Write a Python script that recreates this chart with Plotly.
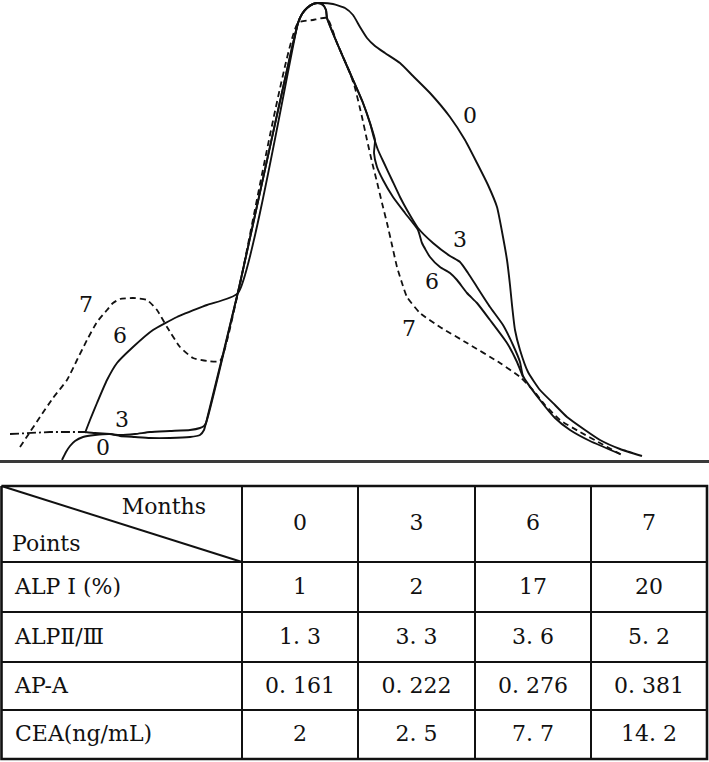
import plotly.graph_objects as go

# ---------------- densitometry traces (mobility x, relative density y) ----------------
curve0_x = [62, 66, 70, 75, 83, 95, 110, 120, 135, 150, 170, 190, 200, 204, 206, 238, 298, 302, 307, 313,
            320, 333, 345, 353, 360, 367, 375, 385, 400, 413, 430, 450, 465, 477, 488, 497, 503, 507, 510,
            512, 515, 520, 528, 540, 555, 567, 585, 600, 620, 642]
curve0_y = [0, 8, 14, 19, 23, 25, 26, 24, 23, 22, 22, 23, 25, 30, 37, 168, 437, 446, 452, 456,
            457, 456, 452, 445, 433, 422, 414, 407, 397, 384, 367, 343, 320, 297, 275, 253, 223, 200, 175,
            155, 130, 110, 88, 70, 55, 43, 30, 20, 11, 4]

curve3_lead_x = [10, 30, 50, 70, 85]
curve3_lead_y = [26, 27, 28, 28, 28]
curve3_x = [85, 95, 110, 120, 135, 150, 170, 190, 200, 204, 206, 238, 298, 302, 307, 313, 318, 323, 326, 327,
            337, 350, 363, 370, 374, 378, 384, 392, 400, 407, 418, 433, 450, 460, 468, 477, 490, 503, 513,
            520, 523, 540, 555, 570, 590, 620]
curve3_y = [28, 27, 26, 25, 26, 28, 29, 30, 32, 34, 37, 168, 437, 446, 452, 456, 457, 455, 450, 442,
            417, 387, 357, 337, 322, 310, 297, 280, 263, 250, 232, 217, 204, 198, 187, 173, 153, 135, 115,
            98, 84, 60, 42, 30, 19, 6]

curve6_x = [85, 90, 97, 107, 117, 133, 153, 177, 207, 238, 298, 302, 307, 313, 318, 323, 326, 327, 337, 350,
            363, 370, 375, 374, 377, 383, 393, 405, 418, 422, 430, 440, 450, 457, 467, 477, 490, 507, 517, 523]
curve6_y = [27, 40, 57, 80, 97, 113, 130, 143, 155, 167, 437, 446, 452, 456, 457, 455, 450, 442, 417, 387,
            357, 337, 320, 307, 293, 280, 263, 247, 230, 217, 203, 193, 187, 180, 167, 157, 140, 117, 98, 83]

curve7_x = [20, 30, 40, 53, 67, 77, 87, 97, 107, 113, 120, 133, 147, 157, 167, 180, 193, 207, 220, 238,
            298, 313, 327, 337, 350, 355, 362, 367, 372, 377, 382, 387, 392, 397, 402, 407, 420, 440, 467,
            500, 520, 533, 545, 560, 580, 600, 622]
curve7_y = [13, 28, 43, 62, 80, 100, 120, 138, 150, 157, 161, 162, 160, 150, 133, 113, 102, 99, 99, 167,
            437, 440, 442, 417, 387, 372, 343, 320, 298, 278, 257, 237, 215, 193, 177, 163, 147, 133, 117,
            97, 83, 70, 55, 40, 28, 17, 5]

curve_labels = ["0", "0", "3", "3", "6", "6", "7", "7"]
label_x = [470, 103, 460, 122, 432, 120, 409, 86]
label_y = [343, 11, 219, 39, 177, 123, 130, 154]

# ---------------- table ----------------
months = ["0", "3", "6", "7"]
row_labels = ["ALP I (%)", "ALPⅡ/Ⅲ", "AP-A", "CEA(ng/mL)"]
alp1 = [1, 2, 17, 20]
alp23 = [1.3, 3.3, 3.6, 5.2]
apa = [0.161, 0.222, 0.276, 0.381]
cea = [2, 2.5, 7.7, 14.2]

FONT = "DejaVu Serif"
FS = 22
INK = "#111111"

fig = go.Figure()

line_kw = dict(color=INK, width=1.9, shape="spline", smoothing=0.5)
fig.add_trace(go.Scatter(x=curve0_x, y=curve0_y, mode="lines", line=dict(**line_kw)))
fig.add_trace(go.Scatter(x=curve3_lead_x, y=curve3_lead_y, mode="lines",
                         line=dict(color=INK, width=1.8, dash="9px,3px,2px,3px")))
fig.add_trace(go.Scatter(x=curve3_x, y=curve3_y, mode="lines", line=dict(**line_kw)))
fig.add_trace(go.Scatter(x=curve6_x, y=curve6_y, mode="lines", line=dict(**line_kw)))
fig.add_trace(go.Scatter(x=curve7_x, y=curve7_y, mode="lines",
                         line=dict(color=INK, width=1.8, shape="spline", smoothing=0.5, dash="6px,4px")))
fig.add_trace(go.Scatter(x=label_x, y=label_y, mode="text", text=curve_labels,
                         textfont=dict(family=FONT, size=FS, color=INK), textposition="middle center"))

# table geometry (in table axis units)
col_edges = [1.5, 242, 358, 475, 591, 707]
row_edges = [486, 562, 612, 662, 710, 759]

gx, gy = [], []
for ye in row_edges[1:-1]:
    gx += [col_edges[0], col_edges[-1], None]
    gy += [ye, ye, None]
for xe in col_edges[1:-1]:
    gx += [xe, xe, None]
    gy += [row_edges[0], row_edges[-1], None]
# diagonal of the corner cell
gx += [col_edges[0], col_edges[1], None]
gy += [row_edges[0], row_edges[1], None]
fig.add_trace(go.Scatter(x=gx, y=gy, mode="lines", line=dict(color=INK, width=2),
                         xaxis="x2", yaxis="y2"))
# outer border
fig.add_trace(go.Scatter(x=[col_edges[0], col_edges[-1], col_edges[-1], col_edges[0], col_edges[0]],
                         y=[row_edges[0], row_edges[0], row_edges[-1], row_edges[-1], row_edges[0]],
                         mode="lines", line=dict(color=INK, width=2.6), xaxis="x2", yaxis="y2"))


def fmt(v):
    return str(v).replace(".", ". ")


rows = [alp1, alp23, apa, cea]
cx, cy, ct = [], [], []
col_centers = [(col_edges[i] + col_edges[i + 1]) / 2 for i in range(1, len(col_edges) - 1)]
row_centers = [(row_edges[i] + row_edges[i + 1]) / 2 for i in range(len(row_edges) - 1)]
for j, m in enumerate(months):
    cx.append(col_centers[j]); cy.append(row_centers[0]); ct.append(m)
for i, vals in enumerate(rows):
    for j, v in enumerate(vals):
        cx.append(col_centers[j]); cy.append(row_centers[i + 1] + 1); ct.append(fmt(v))
fig.add_trace(go.Scatter(x=cx, y=cy, mode="text", text=ct, textposition="middle center",
                         textfont=dict(family=FONT, size=FS, color=INK), xaxis="x2", yaxis="y2"))
fig.add_trace(go.Scatter(x=[15] * len(row_labels), y=[r + 1 for r in row_centers[1:]], mode="text",
                         text=row_labels, textposition="middle right",
                         textfont=dict(family=FONT, size=FS, color=INK), xaxis="x2", yaxis="y2"))
# corner cell headings
fig.add_trace(go.Scatter(x=[206, 12], y=[508, 545], mode="text", text=["Months", "Points"],
                         textposition=["middle left", "middle right"],
                         textfont=dict(family=FONT, size=FS, color=INK), xaxis="x2", yaxis="y2"))

W, H, BASE = 709, 762, 460
hidden = dict(visible=False, showgrid=False, zeroline=False)
fig.update_layout(
    width=W, height=H, margin=dict(l=0, r=0, t=0, b=0),
    paper_bgcolor="white", plot_bgcolor="rgba(0,0,0,0)", showlegend=False,
    xaxis=dict(range=[0, W], domain=[0, 1], showline=True, linecolor="#3a3a3a", linewidth=3,
               showgrid=False, zeroline=False, showticklabels=False, ticks="", anchor="y"),
    yaxis=dict(range=[0, BASE], domain=[1 - BASE / H, 1], anchor="x", **hidden),
    xaxis2=dict(range=[0, W], domain=[0, 1], anchor="y2", **hidden),
    yaxis2=dict(range=[H, 0], domain=[0, 1], anchor="x2", **hidden),
)

fig.write_html("out.html", config={"displayModeBar": False, "staticPlot": True},
               post_script="document.body.style.margin='0';document.body.style.overflow='hidden';")
